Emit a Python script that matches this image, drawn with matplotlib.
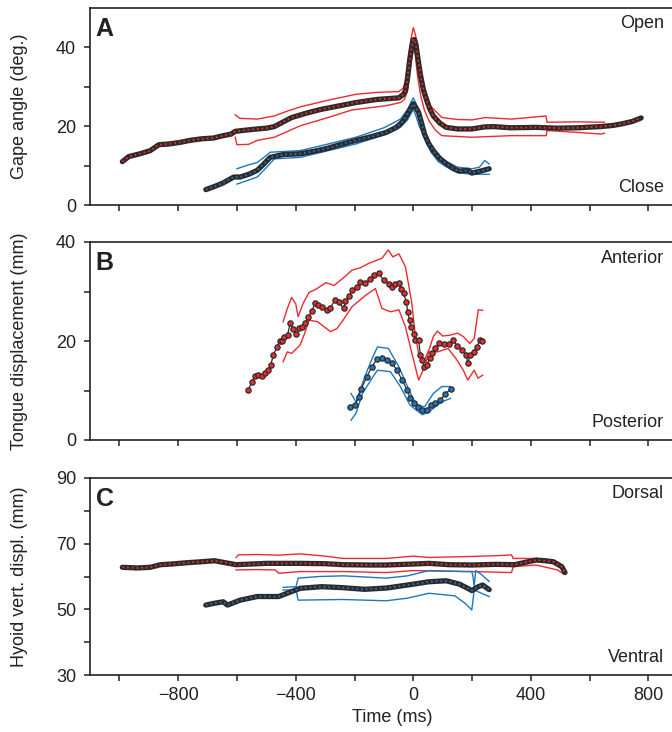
import matplotlib
matplotlib.use('Agg')
import matplotlib.pyplot as plt
from matplotlib.ticker import FixedLocator

plt.rcParams['font.family'] = ['Liberation Sans', 'DejaVu Sans']

RED = '#ee2a2e'
BLUE = '#1a78c2'
DARK = '#2e2a2a'

# ---------------- Panel A: gape angle ----------------
a_red_t = [-990, -968, -930, -895, -866, -830, -793, -760, -720, -680, -647, -620, -606, -570, -531, -500,
           -473, -445, -414, -360, -312, -250, -195, -160, -122, -85, -49, -35, -27, -20, -13, -6, -1, 4,
           9, 16, 24, 35, 46, 57, 68, 90, 112, 150, 199, 240, 272, 330, 418, 491, 560, 637, 680, 710, 745, 775]
a_red_v = [11.0, 12.3, 13.0, 13.8, 15.3, 15.5, 15.9, 16.4, 16.8, 17.0, 17.6, 18.0, 18.7, 19.0, 19.3, 19.5,
           19.9, 21.0, 22.2, 23.4, 24.3, 25.2, 26.0, 26.4, 26.8, 27.0, 27.2, 28.0, 28.9, 32.0, 36.5, 40.0, 41.9, 42.0,
           40.7, 37.0, 33.1, 29.0, 26.4, 24.2, 22.6, 20.8, 19.7, 19.3, 19.3, 19.8, 19.9, 19.6, 19.7, 19.5, 19.6, 19.9,
           20.2, 20.6, 21.2, 22.1]
a_red_up_t = [-606, -590, -531, -473, -430, -385, -290, -195, -120, -49, -35, -27, -15, -6, 0, 8, 18, 38, 60,
              97, 150, 200, 245, 333, 451, 455, 560, 650]
a_red_up_v = [22.9, 22.0, 21.8, 22.6, 23.8, 24.9, 26.6, 28.1, 28.6, 28.8, 29.6, 31.4, 38.0, 43.0, 45.0, 43.0,
              36.0, 29.8, 25.0, 22.2, 21.7, 21.6, 22.2, 21.8, 22.6, 21.0, 21.1, 21.0]
a_red_lo_t = [-606, -600, -560, -531, -473, -430, -385, -290, -210, -93, -44, -30, -20, -12, -5, 0, 6, 14, 24,
              38, 53, 75, 97, 199, 333, 452, 455, 565, 637, 650]
a_red_lo_v = [17.2, 15.3, 15.4, 16.4, 17.2, 18.6, 20.1, 22.2, 24.1, 25.2, 26.0, 26.8, 29.0, 34.0, 37.5, 39.5,
              38.5, 33.0, 28.1, 24.0, 21.4, 19.0, 17.6, 17.2, 17.6, 17.6, 18.9, 18.4, 18.0, 18.2]

a_blue_t = [-706, -680, -647, -611, -589, -560, -531, -510, -487, -443, -385, -340, -297, -250, -195, -140,
            -93, -60, -44, -30, -20, -10, 0, 8, 18, 28, 38, 52, 68, 90, 112, 135, 156, 185, 199, 228, 258]
a_blue_v = [3.9, 4.6, 5.6, 7.1, 7.1, 7.8, 8.8, 10.3, 12.1, 12.8, 13.0, 13.6, 14.3, 15.3, 16.4, 17.4,
            18.4, 19.6, 20.6, 21.8, 23.1, 24.4, 25.7, 24.8, 23.5, 20.8, 18.0, 15.6, 13.8, 11.8, 10.5, 9.3,
            8.6, 8.8, 8.1, 8.6, 9.2]
a_blue_up_t = [-600, -560, -531, -510, -487, -385, -300, -195, -100, -44, -20, -5, 0, 10, 20, 38, 60, 85,
               112, 150, 199, 225, 243, 258]
a_blue_up_v = [9.2, 10.2, 10.8, 12.0, 13.4, 13.8, 15.3, 17.2, 19.6, 21.8, 24.2, 26.5, 27.2, 25.6, 23.0,
               18.9, 15.2, 12.6, 11.1, 9.6, 9.2, 9.6, 11.3, 10.4]
a_blue_lo_t = [-600, -531, -500, -473, -385, -300, -195, -100, -44, -20, -5, 0, 10, 20, 38, 60, 85, 112,
               150, 199, 258]
a_blue_lo_v = [5.3, 7.1, 9.5, 11.7, 12.1, 13.6, 15.5, 17.8, 19.7, 21.6, 23.6, 24.3, 22.4, 20.0, 17.2,
               13.4, 11.0, 9.7, 8.2, 7.8, 7.8]

# ---------------- Panel B: tongue displacement ----------------
b_red_t = [-561, -549, -538, -527, -515, -504, -493, -485, -476, -464, -455, -447, -439, -428, -419, -410,
           -398, -390, -379, -368, -357, -345, -334, -323, -311, -294, -283, -266, -254, -237, -231, -220,
           -209, -192, -180, -163, -146, -135, -118, -101, -84, -73, -61, -50, -42, -33, -24, -19, -13, -8,
           1, 7, 18, 24, 30, 37, 47, 55, 64, 75, 86, 103, 120, 135, 149, 166, 180, 185, 194, 205, 217, 226, 234]
b_red_v = [10.2, 11.8, 12.9, 13.1, 12.9, 13.5, 14.1, 15.2, 17.2, 18.8, 19.9, 20.1, 20.9, 21.2, 23.6, 22.4,
           21.4, 22.6, 22.8, 23.6, 24.8, 26.1, 27.7, 27.3, 26.9, 26.3, 26.6, 28.3, 27.8, 26.6, 28.1, 29.0,
           30.3, 31.0, 32.0, 31.8, 32.5, 33.3, 33.7, 32.3, 31.6, 31.0, 31.6, 31.8, 30.6, 29.6, 27.9, 25.9, 24.2, 22.9,
           21.5, 20.3, 20.2, 17.2, 16.2, 14.7, 15.2, 16.5, 17.5, 18.5, 19.5, 19.3, 19.4, 20.2, 19.0, 18.2, 17.2,
           15.5, 17.2, 17.8, 18.8, 20.3, 20.0]
b_red_up_t = [-443, -429, -414, -400, -392, -375, -355, -330, -297, -270, -239, -209, -180, -151, -107, -85,
              -70, -49, -27, -15, -5, 5, 18, 38, 55, 68, 82, 100, 126, 150, 170, 192, 207, 221, 236]
b_red_up_v = [23.9, 26.5, 28.8, 27.5, 24.9, 27.6, 29.8, 30.5, 31.8, 31.2, 32.7, 34.3, 34.8, 35.7, 36.7, 38.4,
              37.0, 37.6, 35.0, 31.0, 27.6, 22.0, 17.5, 16.2, 18.5, 20.9, 22.0, 21.0, 21.2, 21.6, 20.9, 19.5,
              20.5, 26.3, 26.2]
b_red_lo_t = [-443, -429, -414, -385, -370, -355, -326, -282, -260, -239, -209, -165, -129, -107, -78, -49,
              -27, -5, 18, 38, 53, 82, 118, 148, 170, 185, 207, 220, 236]
b_red_lo_v = [15.8, 17.8, 17.5, 19.2, 21.5, 24.2, 23.9, 21.9, 22.5, 24.2, 26.9, 29.1, 30.6, 26.6, 25.9, 26.3,
              22.9, 17.5, 12.1, 14.8, 17.8, 17.8, 18.5, 16.2, 14.1, 12.1, 14.1, 12.5, 13.1]

b_blue_t = [-214, -197, -186, -177, -158, -141, -124, -107, -90, -73, -56, -38, -21, -10, 1, 15, 30, 47,
            60, 75, 92, 109, 128]
b_blue_v = [6.7, 7.1, 8.7, 10.4, 12.8, 14.8, 16.3, 16.5, 16.2, 15.6, 14.1, 12.1, 10.1, 8.4, 7.4, 6.7, 6.1,
            6.1, 7.1, 7.4, 8.1, 9.3, 10.4]
b_blue_up_t = [-212, -195, -165, -140, -122, -85, -49, -20, 9, 38, 68, 97, 126]
b_blue_up_v = [9.4, 7.7, 12.8, 16.5, 18.8, 18.5, 14.8, 10.8, 7.1, 6.7, 9.4, 10.8, 10.8]
b_blue_lo_t = [-212, -195, -173, -137, -122, -78, -44, -12, 9, 31, 53, 97, 126]
b_blue_lo_v = [4.0, 5.4, 9.4, 12.8, 14.1, 13.8, 10.8, 7.1, 6.1, 5.1, 5.7, 7.7, 8.4]

# ---------------- Panel C: hyoid vertical displacement ----------------
c_red_t = [-990, -940, -895, -860, -822, -770, -720, -676, -640, -603, -500, -385, -300, -239, -150, -93,
           0, 53, 120, 199, 280, 345, 380, 418, 450, 476, 505, 516]
c_red_v = [62.8, 62.6, 62.8, 63.6, 63.8, 64.2, 64.5, 64.8, 64.2, 63.6, 64.0, 64.0, 63.9, 63.6, 63.5, 63.5,
           63.8, 64.0, 63.6, 63.5, 63.7, 63.6, 64.3, 65.0, 64.8, 64.5, 63.0, 61.2]
c_red_up_t = [-603, -595, -531, -458, -385, -300, -239, -93, 0, 53, 199, 300, 334, 340, 418, 490, 510]
c_red_up_v = [65.8, 66.6, 66.7, 66.5, 66.9, 66.2, 65.5, 65.5, 66.2, 65.8, 66.1, 66.4, 66.6, 65.5, 65.5, 64.5, 63.0]
c_red_lo_t = [-603, -531, -470, -458, -385, -239, -93, 0, 199, 334, 340, 418, 490, 510]
c_red_lo_v = [62.0, 62.1, 62.0, 61.0, 61.5, 61.5, 61.2, 61.8, 61.5, 61.2, 63.0, 63.5, 62.0, 60.8]

c_blue_t = [-706, -680, -647, -632, -589, -531, -458, -429, -385, -312, -240, -166, -90, -20, 53, 112, 156,
            185, 199, 221, 236, 258]
c_blue_v = [51.3, 51.8, 52.3, 51.3, 52.8, 53.9, 53.9, 54.9, 56.4, 56.9, 56.6, 56.1, 56.5, 57.4, 58.4, 58.7,
            57.7, 56.4, 55.7, 56.9, 57.4, 56.0]
c_blue_up_t = [-443, -399, -392, -320, -239, -93, -20, 53, 170, 199, 203, 207, 212, 229, 258]
c_blue_up_v = [56.7, 56.9, 59.5, 60.0, 60.2, 59.5, 60.2, 61.8, 61.5, 61.5, 60.0, 56.9, 61.8, 60.8, 58.5]
c_blue_lo_t = [-443, -399, -392, -239, -93, -20, 53, 141, 177, 199, 207, 229, 258]
c_blue_lo_v = [55.9, 55.9, 52.8, 53.0, 52.6, 53.4, 54.9, 54.1, 51.8, 49.8, 55.9, 55.0, 53.9]

x_major = [-800, -400, 0, 400, 800]
x_minor = [-1000, -600, -200, 200, 600]

panels = [
    dict(letter='A', ylabel='Gape angle (deg.)', ylim=(0, 50), ymaj=[0, 20, 40], ymin=[10, 30],
         top='Open', bottom='Close', box=(8, 205), style='band',
         red=(a_red_t, a_red_v, a_red_up_t, a_red_up_v, a_red_lo_t, a_red_lo_v),
         blue=(a_blue_t, a_blue_v, a_blue_up_t, a_blue_up_v, a_blue_lo_t, a_blue_lo_v)),
    dict(letter='B', ylabel='Tongue displacement (mm)', ylim=(0, 40), ymaj=[0, 20, 40], ymin=[10, 30],
         top='Anterior', bottom='Posterior', box=(242, 440), style='dots',
         red=(b_red_t, b_red_v, b_red_up_t, b_red_up_v, b_red_lo_t, b_red_lo_v),
         blue=(b_blue_t, b_blue_v, b_blue_up_t, b_blue_up_v, b_blue_lo_t, b_blue_lo_v)),
    dict(letter='C', ylabel='Hyoid vert. displ. (mm)', ylim=(30, 90), ymaj=[30, 50, 70, 90], ymin=[40, 60, 80],
         top='Dorsal', bottom='Ventral', box=(478, 675), style='band',
         red=(c_red_t, c_red_v, c_red_up_t, c_red_up_v, c_red_lo_t, c_red_lo_v),
         blue=(c_blue_t, c_blue_v, c_blue_up_t, c_blue_up_v, c_blue_lo_t, c_blue_lo_v)),
]

W, H = 672, 732
fig = plt.figure(figsize=(W / 100, H / 100), dpi=100)
left_px = 90

for i, p in enumerate(panels):
    top_px, bot_px = p['box']
    ax = fig.add_axes([left_px / W, 1 - bot_px / H, 1 - left_px / W, (bot_px - top_px) / H])
    ax.set_xlim(-1100, 880)
    ax.set_ylim(*p['ylim'])
    for key, col in (('red', RED), ('blue', BLUE)):
        t, v, ut, uv, lt, lv = p[key]
        ax.plot(ut, uv, color=col, lw=1.0, zorder=2)
        ax.plot(lt, lv, color=col, lw=1.0, zorder=2)
        if p['style'] == 'band':
            ax.plot(t, v, color=DARK, lw=3.8, solid_capstyle='round', solid_joinstyle='round', zorder=3)
            ax.plot(t, v, color=col, lw=1.3, ls=(0, (1.0, 1.6)), zorder=4)
        else:
            ax.plot(t, v, color=DARK, lw=0.9, marker='o', ms=3.8, mfc=col, mec=DARK, mew=0.9, zorder=3)
    ax.spines['right'].set_visible(False)
    for s in ('left', 'top', 'bottom'):
        ax.spines[s].set_linewidth(1.2)
        ax.spines[s].set_color('#222222')
    ax.xaxis.set_major_locator(FixedLocator(x_major))
    ax.xaxis.set_minor_locator(FixedLocator(x_minor))
    ax.yaxis.set_major_locator(FixedLocator(p['ymaj']))
    ax.yaxis.set_minor_locator(FixedLocator(p['ymin']))
    ax.tick_params(which='both', direction='out', length=4, width=1.1, color='#222222',
                   labelsize=13, labelcolor='#222222')
    ax.tick_params(axis='y', which='both', pad=6)
    ax.tick_params(axis='x', which='both', pad=5)
    if i < 2:
        ax.tick_params(axis='x', labelbottom=False)
    ax.text(0.010, 0.955, p['letter'], transform=ax.transAxes, ha='left', va='top',
            fontsize=18, fontweight='bold', color='#222222')
    ax.text(0.986, 0.919, p['top'], transform=ax.transAxes, ha='right', va='center',
            fontsize=13, color='#222222')
    ax.text(0.986, 0.088, p['bottom'], transform=ax.transAxes, ha='right', va='center',
            fontsize=13, color='#222222')
    fig.text(20 / W, 1 - ((top_px + bot_px) / 2) / H, p['ylabel'], rotation=90, ha='center',
             va='center', fontsize=13, color='#222222')

fig.text(392 / W, 1 - 718 / H, 'Time (ms)', ha='center', va='center', fontsize=13, color='#222222')

fig.savefig('out.png', dpi=100)
